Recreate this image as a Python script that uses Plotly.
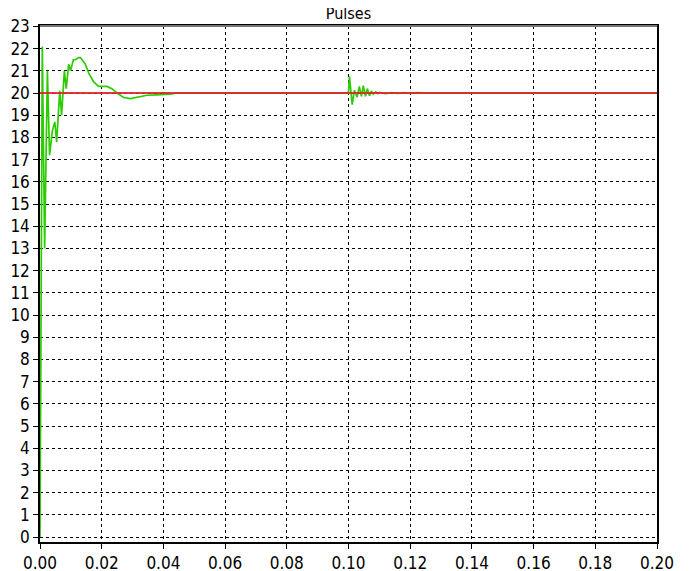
import plotly.graph_objects as go

# Green (measured) pulses series
t_green = [0.0, 0.00075, 0.0015, 0.0024, 0.0031, 0.0037, 0.0040, 0.0048, 0.0054,
           0.0064, 0.0070, 0.0079, 0.0085, 0.0093, 0.0099, 0.0108, 0.0115, 0.0125,
           0.0131, 0.0147, 0.0158, 0.0174, 0.0190, 0.0217, 0.0233, 0.0250, 0.0271,
           0.0293, 0.0314, 0.0347, 0.0379, 0.0422, 0.0440,
           0.1000, 0.1003, 0.1012, 0.1019, 0.1028, 0.1035, 0.1042, 0.1048, 0.1055,
           0.1061, 0.1068, 0.1074, 0.1080, 0.1088, 0.1095, 0.1100, 0.1120, 0.1140,
           0.1160, 0.1180, 0.1200, 0.1220, 0.1250, 0.1260, 0.2000]
y_green = [0.0, 22.1, 13.0, 21.0, 17.2, 18.1, 18.3, 18.7, 17.8,
           20.1, 19.0, 21.0, 20.2, 21.3, 21.0, 21.5, 21.5, 21.6,
           21.6, 21.3, 20.9, 20.5, 20.3, 20.3, 20.2, 20.0, 19.8,
           19.75, 19.8, 19.9, 19.92, 19.95, 20.0,
           20.0, 20.75, 19.48, 20.12, 19.82, 20.3, 19.85, 20.33, 19.85,
           20.2, 19.88, 20.09, 19.95, 20.05, 19.97, 20.03, 19.97, 20.02,
           19.98, 20.02, 19.98, 20.02, 19.98, 20.0, 20.0]

# Red reference series
t_red = [0.0, 0.2]
y_red = [20.0, 20.0]

x_ticks = [0.00, 0.02, 0.04, 0.06, 0.08, 0.10, 0.12, 0.14, 0.16, 0.18, 0.20]
x_tick_labels = ["0.00", "0.02", "0.04", "0.06", "0.08", "0.10", "0.12", "0.14", "0.16", "0.18", "0.20"]
y_ticks = list(range(0, 24))

FONT = "DejaVu Sans Condensed, DejaVu Sans, sans-serif"

W, H = 685, 571  # page body has an 8px margin

fig = go.Figure()
fig.add_trace(go.Scatter(x=t_green, y=y_green, mode="lines",
                         line=dict(color="#2ccc00", width=1.7), showlegend=False))
fig.add_trace(go.Scatter(x=t_red, y=y_red, mode="lines",
                         line=dict(color="rgba(225,35,40,0.9)", width=2), showlegend=False))

fig.update_layout(
    width=W, height=H,
    margin=dict(l=32, r=36, t=18, b=37, pad=0),
    paper_bgcolor="white", plot_bgcolor="white",
    title=dict(text="Pulses", x=0.5, xanchor="center", xref="paper",
               y=1.0, yanchor="top", automargin=False, pad=dict(t=0, b=0),
               font=dict(family=FONT, size=16, color="black")),
    font=dict(family=FONT, size=17, color="black"),
)

fig.update_xaxes(
    range=[0, 0.2], tickvals=x_ticks, ticktext=x_tick_labels, automargin=False,
    showgrid=True, gridcolor="black", griddash="dot", gridwidth=1,
    showline=True, linecolor="black", linewidth=1.5, mirror=True,
    ticks="outside", ticklen=5, tickcolor="black",
    zeroline=False, tickfont=dict(family=FONT, size=17),
)
fig.update_yaxes(
    range=[-0.22, 23.02], tickvals=y_ticks, automargin=False,
    showgrid=True, gridcolor="black", griddash="dot", gridwidth=1,
    showline=True, linecolor="black", linewidth=1.5, mirror=True,
    ticks="outside", ticklen=5, tickcolor="black",
    zeroline=False, tickfont=dict(family=FONT, size=17),
)

# gray top border like the reference
fig.add_shape(type="line", xref="paper", yref="paper", x0=0, x1=1, y0=1, y1=1,
              line=dict(color="#777777", width=2))

fig.write_html("out.html")
